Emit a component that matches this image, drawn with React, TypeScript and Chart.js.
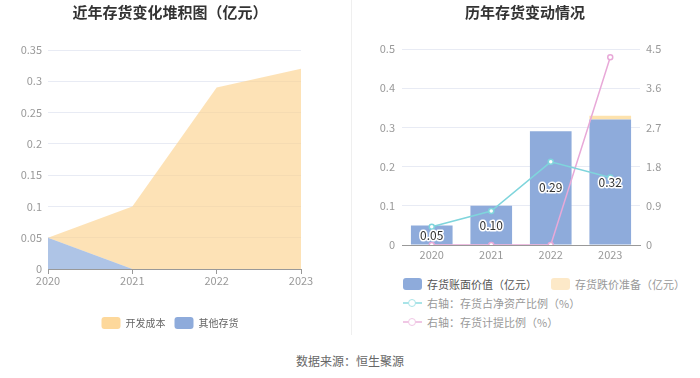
import React, { useEffect, useRef } from "react";
import { Chart, registerables } from "chart.js";

Chart.register(...registerables);

const FONT = '"Noto Sans CJK SC", "Noto Sans", sans-serif';

// ---- data ----
const years = ["2020", "2021", "2022", "2023"];
// left: stacked area (亿元)
const devCost = [0, 0.1, 0.29, 0.32];
const otherInv = [0.05, 0, 0, 0];
const leftTickMax = 0.35;
const leftTickStep = 0.05;
// right: bars (亿元) + lines (%)
const bookValue = [0.05, 0.1, 0.29, 0.32];
const impairment = [0, 0, 0, 0.01];
const invToNetAssets = [0.42, 0.78, 1.91, 1.55];
const provisionRatio = [0, 0, 0, 4.31];
const rightLeftMax = 0.5;
const rightLeftStep = 0.1;
const rightRightMax = 4.5;
const rightRightStep = 0.9;

const legendLeft = ["开发成本", "其他存货"];
const legendRight = [
  "存货账面价值（亿元）",
  "存货跌价准备（亿元）",
  "右轴：存货占净资产比例（%）",
  "右轴：存货计提比例（%）",
];

const fmt = (v: number, d: number) => String(parseFloat(Number(v).toFixed(d)));

const barLabelPlugin = {
  id: "barLabels",
  afterDatasetsDraw(chart: any) {
    const meta = chart.getDatasetMeta(0);
    const ctx = chart.ctx;
    ctx.save();
    ctx.font = `12px ${FONT}`;
    ctx.textAlign = "center";
    ctx.textBaseline = "middle";
    ctx.lineJoin = "round";
    meta.data.forEach((bar: any, i: number) => {
      const p = bar.getProps(["x", "y", "base"], true);
      const cy = (p.y + p.base) / 2;
      const t = bookValue[i].toFixed(2);
      ctx.lineWidth = 3;
      ctx.strokeStyle = "#ffffff";
      ctx.strokeText(t, p.x, cy);
      ctx.fillStyle = "#333333";
      ctx.fillText(t, p.x, cy);
    });
    ctx.restore();
  },
};

function LeftChart() {
  const ref = useRef<HTMLCanvasElement>(null);
  useEffect(() => {
    const chart = new Chart(ref.current!, {
      type: "line",
      data: {
        labels: years,
        datasets: [
          {
            label: legendLeft[1],
            data: otherInv,
            fill: "origin",
            backgroundColor: "rgba(130,164,217,0.65)",
            borderWidth: 0,
            pointRadius: 0,
            tension: 0,
          },
          {
            label: legendLeft[0],
            data: devCost,
            fill: "-1",
            backgroundColor: "rgba(252,211,143,0.65)",
            borderWidth: 0,
            pointRadius: 0,
            tension: 0,
          },
        ],
      },
      options: {
        animation: false,
        responsive: false,
        layout: { padding: { left: 0, right: 10, top: 0, bottom: 1 } },
        plugins: {
          tooltip: { enabled: false },
          title: {
            display: true,
            text: "近年存货变化堆积图（亿元）",
            color: "#333",
            font: { family: FONT, size: 15, weight: "bold" },
            padding: { top: 3, bottom: 29 },
          },
          legend: {
            position: "bottom",
            labels: {
              font: { family: FONT, size: 10 },
              color: "#666",
              boxWidth: 19,
              boxHeight: 12,
              useBorderRadius: true,
              borderRadius: 3,
              padding: 9,
              generateLabels: () => [
                { text: legendLeft[0], fillStyle: "#fdd89b", strokeStyle: "#fdd89b", lineWidth: 0, datasetIndex: 1, borderRadius: 3, fontColor: "#666" },
                { text: legendLeft[1], fillStyle: "#8eabdb", strokeStyle: "#8eabdb", lineWidth: 0, datasetIndex: 0, borderRadius: 3, fontColor: "#666" },
              ],
            },
          },
        },
        scales: {
          x: {
            offset: false,
            grid: { display: true, drawOnChartArea: false, drawTicks: true, tickLength: 5, color: "#999" },
            border: { display: true, color: "#999" },
            ticks: { color: "#999", font: { family: FONT, size: 11 }, padding: 0, maxRotation: 0 },
            afterFit: (s: any) => { s.height = 39; },
          },
          y: {
            stacked: true,
            min: 0,
            max: leftTickMax,
            grid: { color: "#e8ebf4", drawTicks: false },
            border: { display: false },
            ticks: {
              stepSize: leftTickStep,
              color: "#999",
              font: { family: FONT, size: 11 },
              padding: 6,
              callback: (v: any) => fmt(v, 2),
            },
            afterFit: (s: any) => { s.width = 48; },
          },
          spacer: {
            type: "linear",
            position: "right",
            display: true,
            grid: { drawOnChartArea: false, drawTicks: false },
            border: { display: false },
            ticks: { display: false },
            afterFit: (s: any) => { s.width = 39; },
          },
        },
      },
    } as any);
    return () => chart.destroy();
  }, []);
  return <canvas ref={ref} width={350} height={340} style={{ position: "absolute", left: 0, top: 0, width: 350, height: 340 }} />;
}

function RightChart() {
  const ref = useRef<HTMLCanvasElement>(null);
  useEffect(() => {
    const chart = new Chart(ref.current!, {
      type: "bar",
      data: {
        labels: years,
        datasets: [
          { type: "bar", label: legendRight[0], data: bookValue, backgroundColor: "#8eabdb", stack: "s", order: 2, yAxisID: "y", barPercentage: 0.7, categoryPercentage: 1 },
          { type: "bar", label: legendRight[1], data: impairment, backgroundColor: "#fde2ad", stack: "s", order: 2, yAxisID: "y", barPercentage: 0.7, categoryPercentage: 1 },
          { type: "line", label: legendRight[2], data: invToNetAssets, borderColor: "#7fd5dc", backgroundColor: "#fff", pointBackgroundColor: "#fff", pointBorderColor: "#7fd5dc", pointRadius: 2.5, pointBorderWidth: 1.5, borderWidth: 1.5, yAxisID: "y1", order: 0, tension: 0 },
          { type: "line", label: legendRight[3], data: provisionRatio, borderColor: "#e8a9d8", backgroundColor: "#fff", pointBackgroundColor: "#fff", pointBorderColor: "#e8a9d8", pointRadius: 2.5, pointBorderWidth: 1.5, borderWidth: 1.5, yAxisID: "y1", order: 1, tension: 0 },
        ],
      },
      options: {
        animation: false,
        responsive: false,
        layout: { padding: { left: 0, right: 0, top: 0, bottom: 0 } },
        plugins: {
          tooltip: { enabled: false },
          legend: { display: false },
          title: {
            display: true,
            text: "历年存货变动情况",
            color: "#333",
            font: { family: FONT, size: 15, weight: "bold" },
            padding: { top: 3, bottom: 28 },
          },
        },
        scales: {
          x: {
            stacked: true,
            grid: { display: false, drawTicks: false },
            border: { display: true, color: "#999" },
            ticks: { color: "#999", font: { family: FONT, size: 11 }, padding: 3, maxRotation: 0 },
            afterFit: (s: any) => { s.height = 25; },
          },
          y: {
            stacked: true,
            position: "left",
            min: 0,
            max: rightLeftMax,
            grid: { color: "#e8ebf4", drawTicks: false },
            border: { display: false },
            ticks: { stepSize: rightLeftStep, color: "#999", font: { family: FONT, size: 11 }, padding: 7, callback: (v: any) => fmt(v, 1) },
            afterFit: (s: any) => { s.width = 52; },
          },
          y1: {
            position: "right",
            min: 0,
            max: rightRightMax,
            grid: { drawOnChartArea: false, drawTicks: false },
            border: { display: false },
            ticks: { stepSize: rightRightStep, color: "#999", font: { family: FONT, size: 11 }, padding: 6, callback: (v: any) => fmt(v, 1) },
            afterFit: (s: any) => { s.width = 60; },
          },
        },
      },
      plugins: [barLabelPlugin],
    } as any);
    return () => chart.destroy();
  }, []);
  return <canvas ref={ref} width={350} height={270} style={{ position: "absolute", left: 350, top: 0, width: 350, height: 270 }} />;
}

const legTextStyle = (color: string): React.CSSProperties => ({
  fontFamily: FONT,
  fontSize: 11,
  color,
  whiteSpace: "nowrap",
  lineHeight: "14px",
});

function BoxIcon({ color }: { color: string }) {
  return <div style={{ width: 19, height: 12, borderRadius: 3, background: color, marginRight: 5 }} />;
}

function LineIcon({ color }: { color: string }) {
  return (
    <div style={{ position: "relative", width: 19, height: 12, marginRight: 5 }}>
      <div style={{ position: "absolute", left: 0, top: 5.25, width: 19, height: 1.5, background: color }} />
      <div style={{ position: "absolute", left: 5, top: 1.5, width: 6, height: 6, borderRadius: "50%", border: `1.5px solid ${color}`, background: "#fff" }} />
    </div>
  );
}

function RightLegend() {
  const row = (top: number): React.CSSProperties => ({ position: "absolute", left: 403, top, display: "flex", alignItems: "center", height: 14 });
  return (
    <>
      <div style={row(277)}>
        <BoxIcon color="#8eabdb" />
        <span style={legTextStyle("#555")}>{legendRight[0]}</span>
        <div style={{ width: 14 }} />
        <BoxIcon color="#fde9c8" />
        <span style={legTextStyle("#999")}>{legendRight[1]}</span>
      </div>
      <div style={row(296)}>
        <LineIcon color="#a9e4e8" />
        <span style={legTextStyle("#999")}>{legendRight[2]}</span>
      </div>
      <div style={row(315)}>
        <LineIcon color="#f0c7e5" />
        <span style={legTextStyle("#999")}>{legendRight[3]}</span>
      </div>
    </>
  );
}

export default function App() {
  return (
    <div style={{ position: "absolute", left: 0, top: 0, width: 700, height: 378, background: "#fff", overflow: "hidden" }}>
      <LeftChart />
      <RightChart />
      <div style={{ position: "absolute", left: 351, top: 0, width: 1, height: 335, background: "#efefef" }} />
      <RightLegend />
      <div style={{ position: "absolute", left: 0, top: 353, width: 700, textAlign: "center", fontFamily: FONT, fontSize: 12, color: "#666", lineHeight: "16px" }}>
        数据来源：恒生聚源
      </div>
    </div>
  );
}
